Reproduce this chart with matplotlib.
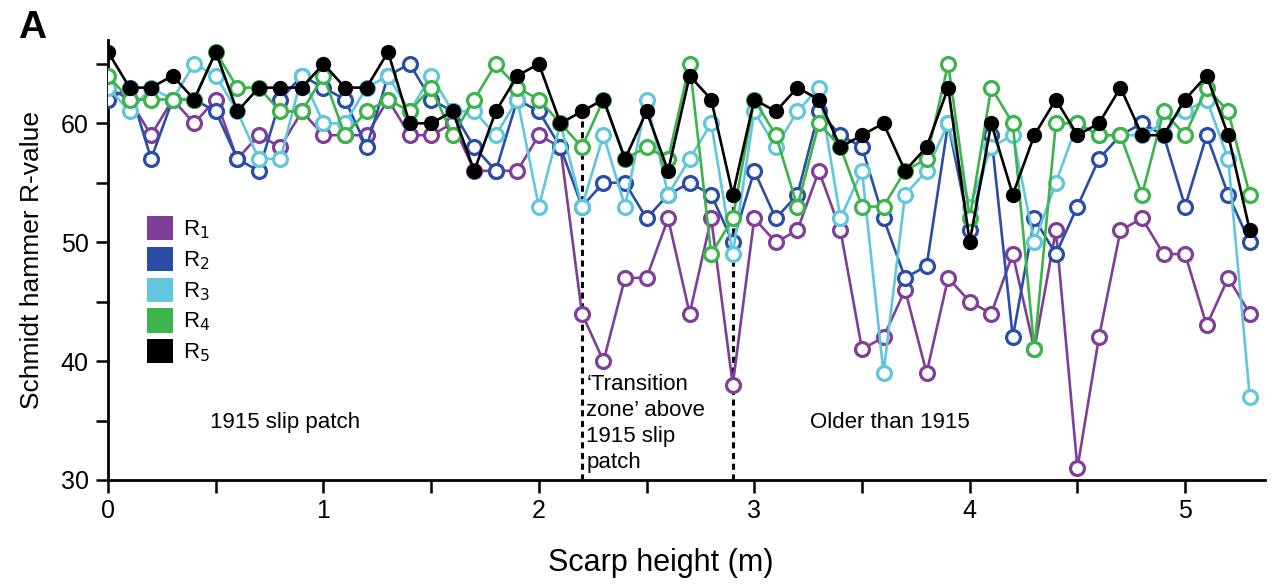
import matplotlib
matplotlib.use("Agg")
import matplotlib.pyplot as plt
import numpy as np
from matplotlib.patches import Patch
from matplotlib.ticker import MultipleLocator

plt.rcParams["font.family"] = ["Liberation Sans", "DejaVu Sans"]

# scarp height (m), every 0.1 m
heights = [round(0.1 * i, 1) for i in range(54)]

r1 = [63, 62, 59, 62, 60, 62, 57, 59, 58, 61, 59, 59, 59, 62, 59, 59, 60, 56, 56, 56,
      59, 58, 44, 40, 47, 47, 52, 44, 52, 38, 52, 50, 51, 56, 51, 41, 42, 46, 39, 47,
      45, 44, 49, 41, 51, 31, 42, 51, 52, 49, 49, 43, 47, 44]
r2 = [62, 63, 57, 62, 62, 61, 57, 56, 62, 64, 63, 62, 58, 64, 65, 62, 61, 58, 56, 62,
      61, 58, 53, 55, 55, 52, 54, 55, 54, 50, 56, 52, 54, 61, 59, 58, 52, 47, 48, 60,
      51, 59, 42, 52, 49, 53, 57, 59, 60, 59, 53, 59, 54, 50]
r3 = [63, 61, 63, 62, 65, 64, 61, 57, 57, 64, 60, 60, 63, 64, 61, 64, 61, 61, 59, 62,
      53, 60, 53, 59, 53, 62, 54, 57, 60, 49, 61, 58, 61, 63, 52, 56, 39, 54, 56, 60,
      53, 58, 59, 50, 55, 60, 59, 59, 59, 60, 61, 62, 57, 37]
r4 = [64, 62, 62, 62, 62, 66, 63, 63, 61, 61, 64, 59, 61, 62, 61, 63, 59, 62, 65, 63,
      62, 60, 58, 62, 57, 58, 57, 65, 49, 52, 62, 59, 53, 60, 58, 53, 53, 56, 57, 65,
      52, 63, 60, 41, 60, 60, 59, 59, 54, 61, 59, 63, 61, 54]
r5 = [66, 63, 63, 64, 62, 66, 61, 63, 63, 63, 65, 63, 63, 66, 60, 60, 61, 56, 61, 64,
      65, 60, 61, 62, 57, 61, 56, 64, 62, 54, 62, 61, 63, 62, 58, 59, 60, 56, 58, 63,
      50, 60, 54, 59, 62, 59, 60, 63, 59, 59, 62, 64, 59, 51]

series_labels = ["R$_1$", "R$_2$", "R$_3$", "R$_4$", "R$_5$"]
colors = ["#7f3f98", "#2a4ea6", "#62c6dc", "#3cb44b", "#000000"]

zone_bounds = [2.2, 2.9]

fig = plt.figure(figsize=(12.74, 5.85), dpi=100)
ax = fig.add_axes([0.0848, 0.1795, 0.908, 0.752])

for vals, col in zip([r1, r2, r3, r4], colors[:4]):
    ax.plot(heights, vals, color=col, lw=1.9, marker="o", ms=10, mfc="white",
            mec=col, mew=2.3, zorder=3)
ax.plot(heights, r5, color=colors[4], lw=1.9, marker="o", ms=10, mfc="black",
        mec="black", zorder=4)

# transition zone boundaries, drawn from the axis up to the R5 point
for xb in zone_bounds:
    top = r5[heights.index(xb)]
    ax.vlines(xb, 30, top, colors="black", linestyles=(0, (2.0, 1.5)), lw=2.2, zorder=2)

ax.text(0.82, 34.8, "1915 slip patch", fontsize=16, ha="center", va="center")
ax.text(2.22, 38.9, "\u2018Transition\nzone\u2019 above\n1915 slip\npatch", fontsize=16,
        ha="left", va="top", linespacing=1.3)
ax.text(3.63, 34.8, "Older than 1915", fontsize=16, ha="center", va="center")

handles = [Patch(facecolor=c, edgecolor="none") for c in colors]
ax.legend(handles, series_labels, loc="upper left", bbox_to_anchor=(0.02, 0.635),
          frameon=False, fontsize=16, handlelength=1.2, handleheight=1.3,
          labelspacing=0.25, handletextpad=0.45, borderpad=0.2)

ax.set_xlim(0, 5.37)
ax.set_ylim(30, 67)
ax.xaxis.set_major_locator(MultipleLocator(1))
ax.xaxis.set_minor_locator(MultipleLocator(0.5))
ax.yaxis.set_major_locator(MultipleLocator(10))
ax.yaxis.set_minor_locator(MultipleLocator(5))
ax.tick_params(which="both", direction="out", width=1.8, labelsize=18)
ax.tick_params(which="major", length=9, pad=5)
ax.tick_params(which="minor", length=9)
for side in ["top", "right"]:
    ax.spines[side].set_visible(False)
for side in ["left", "bottom"]:
    ax.spines[side].set_linewidth(2)

ax.set_xlabel("Scarp height (m)", fontsize=22)
ax.xaxis.set_label_coords(0.478, -0.155)
ax.set_ylabel("Schmidt hammer R-value", fontsize=19, labelpad=12)

fig.text(0.014, 0.935, "A", fontsize=28, fontweight="bold", va="baseline")

fig.savefig("out.png", dpi=100)
